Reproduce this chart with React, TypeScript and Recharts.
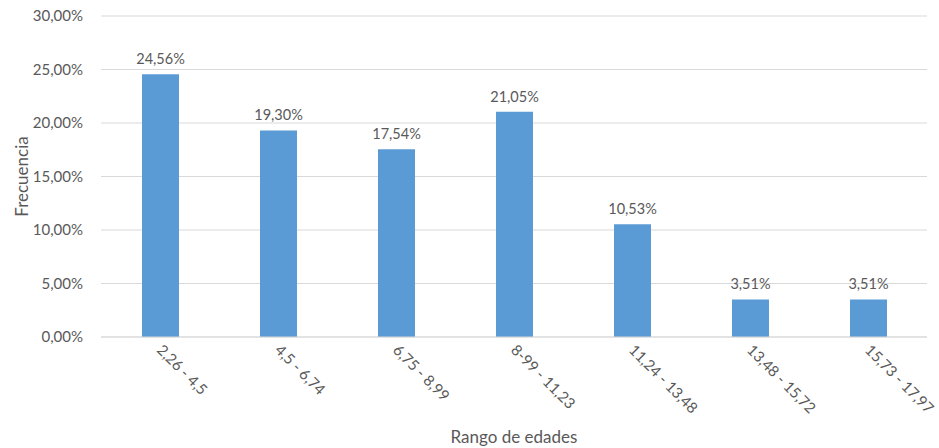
import { BarChart, Bar, XAxis, YAxis, CartesianGrid, LabelList } from "recharts"

const rangos = ["2,26 - 4,5", "4,5 - 6,74", "6,75 - 8,99", "8-99 - 11,23", "11,24 - 13,48", "13,48 - 15,72", "15,73 - 17,97"]
const frecuencias = [24.56, 19.3, 17.54, 21.05, 10.53, 3.51, 3.51]
const yTicks = [0, 5, 10, 15, 20, 25, 30]

const data = rangos.map((rango, i) => ({ rango, frecuencia: frecuencias[i] }))

const FONT = "Lato, 'Open Sans', sans-serif"
const TEXT = "#595959"

const pct = (v: number) => v.toFixed(2).replace(".", ",") + "%"

const RotatedTick = ({ x, y, payload }: any) => (
  <g transform={`translate(${x - 4},${y + 6})`}>
    <text x={0} y={0} transform="rotate(45)" textAnchor="start" fill={TEXT} fontSize={15} fontFamily={FONT}>
      {payload.value}
    </text>
  </g>
)

const YTitle = ({ viewBox }: any) => {
  const cx = 21
  const cy = viewBox.y + viewBox.height / 2
  return (
    <text x={cx} y={cy} transform={`rotate(-90, ${cx}, ${cy})`} textAnchor="middle" dominantBaseline="central" fill={TEXT} fontSize={17} fontFamily={FONT}>
      Frecuencia
    </text>
  )
}

const XTitle = ({ viewBox }: any) => (
  <text x={viewBox.x + viewBox.width / 2} y={436} textAnchor="middle" dominantBaseline="central" fill={TEXT} fontSize={17} fontFamily={FONT}>
    Rango de edades
  </text>
)

export default function App() {
  return (
    <div style={{ position: "absolute", left: 0, top: 0, width: 939, height: 448, background: "#fff" }}>
      <BarChart width={939} height={448} data={data} margin={{ top: 16, right: 12, left: 0, bottom: 31 }}>
        <CartesianGrid vertical={false} stroke="#d9d9d9" />
        <XAxis
          dataKey="rango"
          height={80}
          interval={0}
          tick={<RotatedTick />}
          tickLine={false}
          axisLine={{ stroke: "#d9d9d9" }}
          label={<XTitle />}
        />
        <YAxis
          width={101}
          domain={[0, 30]}
          ticks={yTicks}
          tickFormatter={pct}
          tick={{ fill: TEXT, fontSize: 15, fontFamily: FONT }}
          tickLine={false}
          axisLine={false}
          tickMargin={12}
          label={<YTitle />}
        />
        <Bar dataKey="frecuencia" fill="#5b9bd5" barSize={37} isAnimationActive={false}>
          <LabelList dataKey="frecuencia" position="top" offset={10} formatter={(v: any) => pct(Number(v))} fill={TEXT} fontSize={14.5} fontFamily={FONT} />
        </Bar>
      </BarChart>
    </div>
  )
}
